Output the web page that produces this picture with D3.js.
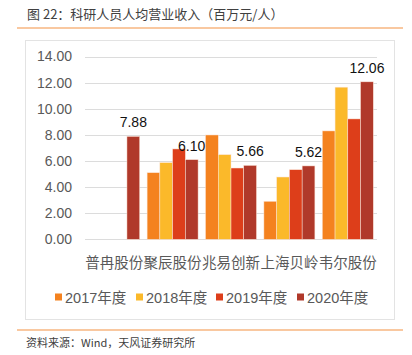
<!DOCTYPE html>
<html><head><meta charset="utf-8">
<script src="https://cdn.jsdelivr.net/npm/d3@7"></script>
<style>
body{margin:0;background:#fff;}
svg{display:block;font-family:"Liberation Sans","Noto Sans CJK SC",sans-serif;}
</style></head>
<body>
<svg id="c" width="412" height="355"></svg>
<script>
const title = "图 22：科研人员人均营业收入（百万元/人）";
const source = "资料来源：Wind，天风证券研究所";
const categories = ["普冉股份","聚辰股份","兆易创新","上海贝岭","韦尔股份"];
const seriesNames = ["2017年度","2018年度","2019年度","2020年度"];
const colors = ["#F4821F","#FBB92A","#DD3E1A","#B0392A"];
const v2017 = [null, 5.10, 7.99, 2.91, 8.30];
const v2018 = [null, 5.87, 6.48, 4.77, 11.65];
const v2019 = [null, 6.92, 5.46, 5.33, 9.22];
const v2020 = [7.88, 6.10, 5.66, 5.62, 12.06];
const yTicks = [0,2,4,6,8,10,12,14];
const series = [v2017, v2018, v2019, v2020];

const svg = d3.select("#c");
// title
svg.append("text").attr("x",27).attr("y",19).attr("font-size",13).attr("fill","#404040")
  .attr("font-family","'Noto Sans CJK SC',sans-serif").text(title);
svg.append("line").attr("x1",17).attr("x2",403).attr("y1",28).attr("y2",28)
  .attr("stroke","#F7B680").attr("stroke-width",1.5);
// frame
svg.append("rect").attr("x",25.5).attr("y",40.5).attr("width",369).attr("height",279)
  .attr("fill","none").attr("stroke","#e3e3e3");

const x0 = d3.scaleBand().domain(categories).range([85,377]).paddingInner(0.127).paddingOuter(0.0635);
const x1 = d3.scaleBand().domain(seriesNames).range([0,x0.bandwidth()]);
const y = d3.scaleLinear().domain([0,14]).range([239.3,56.5]);

// grid
const g = svg.append("g");
g.selectAll("line.grid").data(yTicks).join("line")
  .attr("x1",85).attr("x2",377).attr("y1",d=>Math.round(y(d))+0.5).attr("y2",d=>Math.round(y(d))+0.5)
  .attr("stroke","#dcdcdc");
// y axis labels
const yAxis = d3.axisLeft(y).tickValues(yTicks).tickFormat(d3.format(".2f")).tickSize(0).tickPadding(0);
const ya = svg.append("g").attr("transform","translate(72,0)").call(yAxis);
ya.select(".domain").remove();
ya.selectAll("text").attr("font-size",14).attr("fill","#595959").attr("font-family","'Liberation Sans',sans-serif");

// bars
series.forEach((vals,si)=>{
  svg.append("g").selectAll("rect").data(categories.map((c,i)=>({c,v:vals[i]})).filter(d=>d.v!=null)).join("rect")
    .attr("x",d=>x0(d.c)+x1(seriesNames[si]))
    .attr("width",x1.bandwidth())
    .attr("y",d=>y(d.v))
    .attr("height",d=>y(0)-y(d.v))
    .attr("fill",colors[si])
    .attr("stroke","#fbe3d6").attr("stroke-width",0.5);
});
// labels for 2020
svg.append("g").selectAll("text").data(categories.map((c,i)=>({c,v:v2020[i]}))).join("text")
  .attr("x",d=>x0(d.c)+x1("2020年度")+x1.bandwidth()/2)
  .attr("y",d=>y(d.v)-9)
  .attr("text-anchor","middle").attr("font-size",14).attr("fill","#111")
  .text(d=>d.v.toFixed(2));

// category axis
svg.append("g").selectAll("text").data(categories).join("text")
  .attr("x",d=>x0(d)+x0.bandwidth()/2).attr("y",268)
  .attr("text-anchor","middle").attr("font-size",14.5).attr("fill","#595959")
  .attr("font-family","'Noto Sans CJK SC',sans-serif").text(d=>d);

// legend
const lx = [55,136,216,297];
const lg = svg.append("g").selectAll("g").data(seriesNames).join("g")
  .attr("transform",(d,i)=>`translate(${lx[i]},297)`);
lg.append("rect").attr("x",0).attr("y",-3.5).attr("width",7).attr("height",7).attr("fill",(d,i)=>colors[i]);
lg.append("text").attr("x",10).attr("y",5.5).attr("font-size",14.5).attr("fill","#595959").text(d=>d);

// bottom
svg.append("line").attr("x1",17).attr("x2",403).attr("y1",330).attr("y2",330)
  .attr("stroke","#F7B680").attr("stroke-width",1.5);
svg.append("text").attr("x",26).attr("y",347).attr("font-size",11).attr("fill","#404040")
  .attr("font-family","'Noto Sans CJK SC',sans-serif").text(source);
</script>
</body></html>
